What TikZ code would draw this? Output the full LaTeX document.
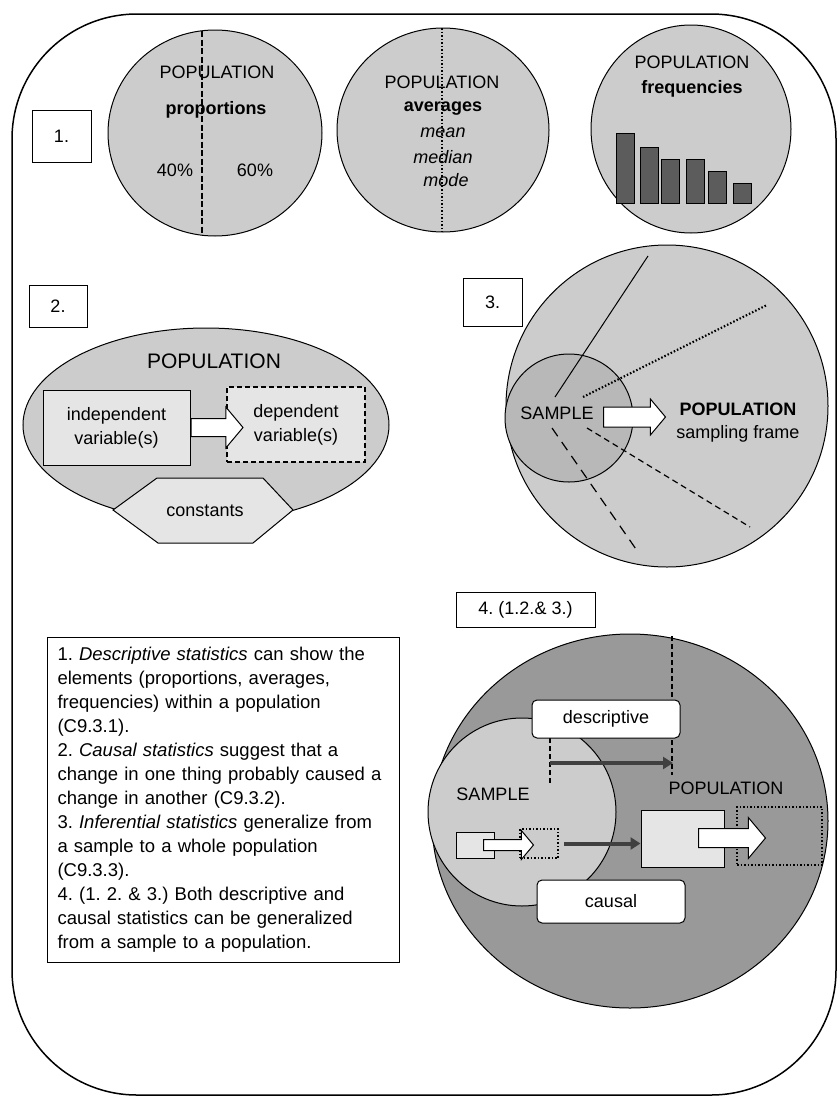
\documentclass[tikz,border=0pt]{standalone}
\usepackage{fontspec}
\setmainfont{Liberation Sans}
\usetikzlibrary{shapes.geometric,shapes.arrows,arrows.meta,positioning}
\frenchspacing
\definecolor{popgray}{gray}{0.80}
\definecolor{lightfill}{gray}{0.90}
\definecolor{samplegray}{gray}{0.72}
\definecolor{darkpop}{gray}{0.60}
\definecolor{bargray}{gray}{0.36}
\tikzset{
  frame/.style={draw, line width=1.5pt, rounded corners=125pt},
  numbox/.style={draw, line width=1pt, fill=white},
  popfill/.style={draw, line width=1pt, fill=popgray},
  varbox/.style={draw, line width=1pt, fill=lightfill, align=center, font=\fontsize{18}{24}\selectfont},
  blockarrow/.style={single arrow, draw, line width=1pt, fill=white, inner xsep=0pt,
    single arrow tip angle=100, single arrow head indent=0pt, anchor=tail},
  darkarrow/.style={line width=4pt, draw=black!75, -{Triangle[length=10pt,width=12pt]}},
  dotbox/.style={draw, line width=2pt, dash pattern=on 1.5pt off 2pt},
  labelbox/.style={draw, line width=1pt, fill=white, rounded corners=5pt}
}
\begin{document}
\begin{tikzpicture}[x=1pt,y=-1pt,font=\fontsize{18}{22}\selectfont]
\useasboundingbox (0,0) rectangle (839,1100);
\draw[frame] (12,14) rectangle (836,1095);

% 1. descriptive statistics
\node[numbox, minimum width=59pt, minimum height=52pt] (n1) at (61.5,136) {1.};
\draw[popfill] (215,133) ellipse [x radius=107pt, y radius=103pt];
\draw[line width=2.2pt, dash pattern=on 6pt off 2.5pt] (202,31) -- (202,235);
\node (pop1) at (217,72) {POPULATION};
\node (prop) at (216,110) {\textbf{proportions}};
\node (p40) at (175,170) {40\%};
\node (p60) at (255,170) {60\%};

\draw[popfill] (443,130) ellipse [x radius=106pt, y radius=102pt];
\draw[line width=1.8pt, dash pattern=on 1.5pt off 2pt] (442,28) -- (442,232);
\node (pop2) at (442,82) {POPULATION};
\node (avg) at (443,109) {\textbf{averages}};
\node (mean) at (443,133) {\textit{mean}};
\node (median) at (443,157) {\textit{median}};
\node (mode) at (446,180) {\textit{mode}};

\draw[popfill] (691,129) ellipse [x radius=100pt, y radius=104pt];
\node (pop3) at (692,62) {POPULATION};
\node (freq) at (692,89) {\textbf{frequencies}};
\foreach \x/\t in {616/133, 640/147, 661/159, 686/159, 708/171, 733/183}
  \draw[line width=1pt, fill=bargray] (\x,\t) rectangle ++(18,{203-\t});

% 2. causal statistics
\node[numbox, minimum width=58pt, minimum height=42pt] (n2) at (58,306) {2.};
\draw[popfill] (206,425) ellipse [x radius=183pt, y radius=97pt];
\draw[line width=1pt, fill=lightfill] (113,510) -- (157,478) -- (263,478) -- (293,510)
  -- (253,543) -- (158,543) -- cycle;
\node (const) at (205,511) {constants};
\node[font=\fontsize{21}{24}\selectfont] (popc) at (214,361) {POPULATION};
\node[varbox, minimum width=147pt, minimum height=75pt] (indep) at (116.5,427.5) {independent\\variable(s)};
\node[varbox, line width=1.3pt, dash pattern=on 5pt off 3pt, minimum width=138pt, minimum height=75pt] (dep) at (296,424.5) {dependent\\variable(s)};
\node[blockarrow, minimum height=52pt, inner ysep=8.5pt, single arrow head extend=11.5pt] (arr2) at (indep.east) {};

% 3. inferential statistics
\node[numbox, minimum width=59pt, minimum height=48pt] (n3) at (492.5,302) {3.};
\draw[popfill] (667,406) circle [radius=161pt];
\draw[line width=1pt, fill=samplegray] (569,418) circle [radius=64pt];
\draw[line width=1pt] (555,397) -- (648,256);
\draw[line width=2.2pt, dash pattern=on 1.5pt off 2pt] (583,397) -- (767,305);
\draw[line width=1.2pt, dash pattern=on 6pt off 4pt] (587,428) -- (750,527);
\draw[line width=1.2pt, dash pattern=on 10pt off 7pt] (552,428) -- (638,552);
\node (samp3) at (557,413) {SAMPLE};
\node[blockarrow, minimum height=62pt, inner ysep=9.5pt, single arrow head extend=8pt] (arr3) at (603,417) {};
\node (pop3b) at (738,409) {\textbf{POPULATION}};
\node (frame3) at (738,434) {sampling frame};

% 4. both generalized
\node[numbox, minimum width=139pt, minimum height=35pt] (n4) at (525.5,609.5) {4. (1.2.\& 3.)};
\draw[line width=1pt, fill=darkpop] (630,821) ellipse [x radius=198pt, y radius=187pt];
\draw[line width=1pt, fill=popgray] (522,812) circle [radius=94pt];
\draw[line width=1.5pt, dash pattern=on 5pt off 3pt] (672,636) -- (672,775);
\draw[line width=1.5pt, dash pattern=on 5pt off 3pt] (550,738) -- (550,785);
\node[labelbox, minimum width=148pt, minimum height=38pt] (desc) at (606,719) {descriptive};
\node[labelbox, minimum width=148pt, minimum height=43pt] (caus) at (611,901.5) {causal};
\coordinate (d1) at (550,763);
\coordinate (d2) at (673,763);
\draw[darkarrow] (d1) -- (d2);
\node (samp4) at (493,794) {SAMPLE};
\node (pop4) at (726,788) {POPULATION};
\node[draw, line width=1pt, fill=lightfill, minimum width=38pt, minimum height=26pt] (sind) at (475,845) {};
\node[dotbox, minimum width=38pt, minimum height=29pt] (sdep) at (539,843.5) {};
\node[blockarrow, minimum height=50pt, inner ysep=5pt, single arrow head extend=9pt] (arr4a) at (483,845) {};
\node[draw, line width=1pt, fill=lightfill, minimum width=83pt, minimum height=57pt] (pind) at (682.5,838.5) {};
\node[dotbox, minimum width=85pt, minimum height=58pt] (pdep) at (779.5,836) {};
\node[blockarrow, minimum height=67pt, inner ysep=9pt, single arrow head extend=11pt] (arr4b) at (698,838) {};
\draw[darkarrow] (sdep.east) ++(5,0) -- (pind.west |- sdep.east);

% notes
\node[draw, line width=1pt, fill=white, anchor=north west, text width=332pt, inner xsep=10pt,
  inner ysep=10pt, align=left, font=\fontsize{18.5}{24}\selectfont] (notes) at (47,637) {%
1. \textit{Descriptive statistics} can show the\\
elements (proportions, averages,\\
frequencies) within a population\\
(C9.3.1).\\
2. \textit{Causal statistics} suggest that a\\
change in one thing probably caused a\\
change in another (C9.3.2).\\
3. \textit{Inferential statistics} generalize from\\
a sample to a whole population\\
(C9.3.3).\\
4. (1. 2. \& 3.) Both descriptive and\\
causal statistics can be generalized\\
from a sample to a population.};
\end{tikzpicture}
\end{document}
